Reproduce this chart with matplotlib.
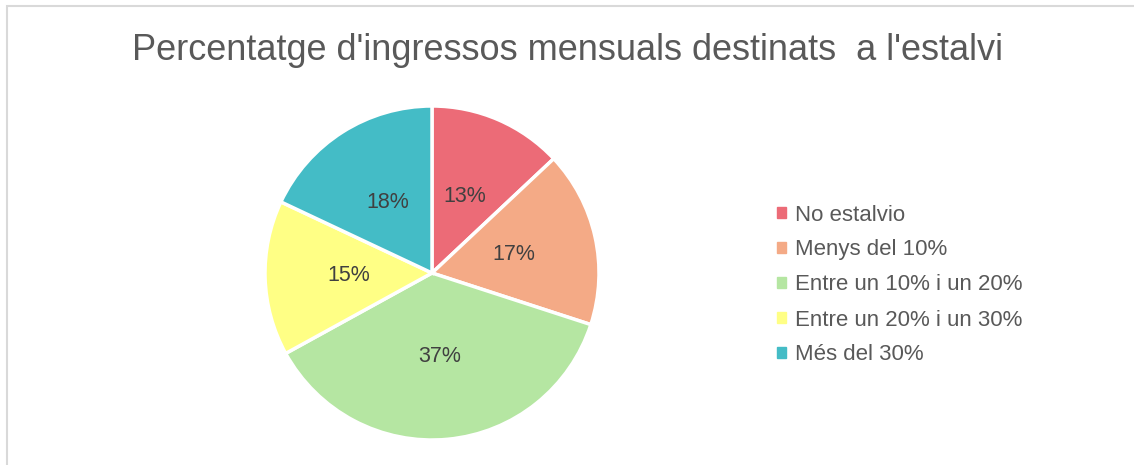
import matplotlib.pyplot as plt
from matplotlib.patches import Rectangle

categories = ["No estalvio", "Menys del 10%", "Entre un 10% i un 20%",
              "Entre un 20% i un 30%", "Més del 30%"]
values = [13, 17, 37, 15, 18]
colors = ["#EC6B77", "#F4AA86", "#B5E6A2", "#FFFF85", "#44BCC6"]

plt.rcParams["font.family"] = ["Liberation Sans", "DejaVu Sans"]

fig = plt.figure(figsize=(11.34, 4.65), dpi=100)

# chart frame border
fig.patches.append(Rectangle((7 / 1134, -0.01), 1.1, 1 - 6.5 / 465 + 0.01,
                             transform=fig.transFigure, fill=False,
                             edgecolor="#D9D9D9", linewidth=1.5))

ax = fig.add_axes([(432 - 167) / 1134, (465 - 273 - 167) / 465,
                   334 / 1134, 334 / 465])
wedges, texts, autotexts = ax.pie(
    values, colors=colors, startangle=90, counterclock=False,
    autopct="%1.0f%%", pctdistance=0.5,
    wedgeprops=dict(edgecolor="white", linewidth=2.5),
    textprops=dict(color="#404040", fontsize=15.5))
ax.set_aspect("equal")
ax.set_xlim(-1, 1)
ax.set_ylim(-1, 1)

fig.text(0.5, 1 - 51 / 465, "Percentatge d'ingressos mensuals destinats  a l'estalvi",
         ha="center", va="center", fontsize=26, color="#595959")

handles = [Rectangle((0, 0), 1, 1, color=c) for c in colors]
fig.legend(handles, categories, loc="center left",
           bbox_to_anchor=(757 / 1134, 1 - 285 / 465), frameon=False,
           handlelength=0.4, handleheight=0.4, handletextpad=0.4,
           labelspacing=0.63, prop=dict(size=16), labelcolor="#595959")

plt.savefig("out.png", dpi=100)
